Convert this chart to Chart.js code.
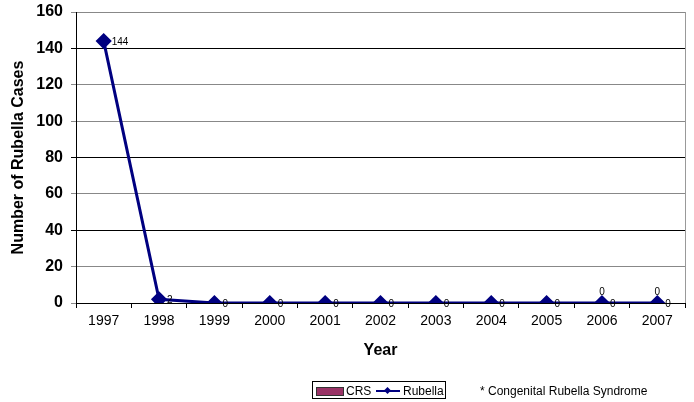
<!DOCTYPE html>
<html>
<head>
<meta charset="utf-8">
<script src="https://cdn.jsdelivr.net/npm/chart.js@4/dist/chart.umd.min.js"></script>
<style>
  body { margin: 0; background: #fff; font-family: "Liberation Sans", Arial, sans-serif; }
  #wrap { position: relative; width: 694px; height: 402px; }
  #legend {
    position: absolute; left: 312px; top: 381px; height: 18px; width: 134px;
    border: 1px solid #000; font-size: 12px; line-height: 18px; box-sizing: border-box;
    white-space: nowrap;
  }
  .swatch { position: absolute; left: 3px; top: 5px; width: 26px; height: 7px; background: #993366; border: 1px solid #333; }
  .crs { position: absolute; left: 33px; top: 0; }
  .lineSym { position: absolute; left: 63px; top: 4px; width: 24px; height: 10px; }
  .lineSym:before { content: ""; position: absolute; left: 0; right: 0; top: 4px; height: 2px; background: #000080; }
  .lineSym:after { content: ""; position: absolute; left: 9px; top: 2px; width: 5px; height: 5px; background: #000080; transform: rotate(45deg); }
  .rub { position: absolute; left: 90px; top: 0; }
  #note { position: absolute; left: 480px; top: 384px; font-size: 12px; }
</style>
</head>
<body>
<div id="wrap">
  <canvas id="chart" width="694" height="402"></canvas>
  <div id="legend"><span class="swatch"></span><span class="crs">CRS</span><span class="lineSym"></span><span class="rub">Rubella</span></div>
  <div id="note">* Congenital Rubella Syndrome</div>
</div>
<script>
const years = ['1997', '1998', '1999', '2000', '2001', '2002', '2003', '2004', '2005', '2006', '2007'];
const rubella = [144, 2, 0, 0, 0, 0, 0, 0, 0, 0, 0];
const crs = [null, null, null, null, null, null, null, null, null, 0, 0];
const yTicks = [0, 20, 40, 60, 80, 100, 120, 140, 160];

const valueLabels = {
  id: 'valueLabels',
  afterDatasetsDraw(chart) {
    const ctx = chart.ctx;
    ctx.save();
    ctx.font = '10px "Liberation Sans", Arial, sans-serif';
    ctx.fillStyle = '#000';
    chart.getDatasetMeta(1).data.forEach((pt, i) => {
      if (rubella[i] === null) return;
      ctx.textAlign = 'left';
      ctx.textBaseline = 'middle';
      ctx.fillText(String(rubella[i]), pt.x + 8, pt.y + 1);
    });
    chart.getDatasetMeta(0).data.forEach((bar, i) => {
      if (crs[i] === null) return;
      ctx.textAlign = 'center';
      ctx.textBaseline = 'bottom';
      ctx.fillText(String(crs[i]), bar.x, bar.y - 6);
    });
    ctx.restore();
  }
};

const plotFrame = {
  id: 'plotFrame',
  beforeDatasetsDraw(chart) {
    const a = chart.chartArea;
    const ctx = chart.ctx;
    ctx.save();
    ctx.strokeStyle = '#999';
    ctx.lineWidth = 1;
    ctx.beginPath();
    ctx.moveTo(a.right + 0.5, a.top);
    ctx.lineTo(a.right + 0.5, a.bottom);
    ctx.stroke();
    ctx.restore();
  }
};

new Chart(document.getElementById('chart'), {
  data: {
    labels: years,
    datasets: [
      {
        type: 'bar',
        label: 'CRS',
        data: crs,
        backgroundColor: '#993366',
        borderColor: '#333',
        borderWidth: 1,
        order: 2
      },
      {
        type: 'line',
        label: 'Rubella',
        data: rubella,
        borderColor: '#000080',
        backgroundColor: '#000080',
        borderWidth: 3,
        pointStyle: 'rectRot',
        pointRadius: 6,
        pointHoverRadius: 6,
        tension: 0,
        order: 1
      }
    ]
  },
  options: {
    responsive: false,
    animation: false,
    events: [],
    layout: { padding: { top: 12, right: 8, bottom: 40, left: 0 } },
    plugins: { legend: { display: false }, tooltip: { enabled: false } },
    scales: {
      x: {
        offset: true,
        afterFit(scale) { scale.height = 59; scale.paddingLeft = 0; scale.paddingRight = 0; },
        grid: { offset: true, drawOnChartArea: false, color: '#000', tickLength: 5 },
        border: { color: '#000', width: 1 },
        ticks: { color: '#000', font: { family: '"Liberation Sans", Arial', size: 14 }, padding: 5, maxRotation: 0 },
        title: { display: true, text: 'Year', color: '#000', font: { family: '"Liberation Sans", Arial', size: 16, weight: 'bold' }, padding: { top: 2, bottom: 2 } }
      },
      y: {
        min: 0,
        max: 160,
        afterFit(scale) { scale.width = 76; scale.paddingTop = 0; scale.paddingBottom = 0; },
        afterBuildTicks(scale) { scale.ticks = yTicks.map(v => ({ value: v })); },
        grid: {
          color: ctx => ([40, 80, 140].includes(ctx.tick && ctx.tick.value) ? '#000' : '#888'),
          tickLength: 5
        },
        border: { color: '#000', width: 1 },
        ticks: { color: '#000', font: { family: '"Liberation Sans", Arial', size: 16, weight: 'bold' }, padding: 8 },
        title: { display: true, text: 'Number of Rubella Cases', color: '#000', font: { family: '"Liberation Sans", Arial', size: 16, weight: 'bold' }, padding: { top: 9, bottom: 9 } }
      }
    }
  },
  plugins: [valueLabels, plotFrame]
});
</script>
</body>
</html>
